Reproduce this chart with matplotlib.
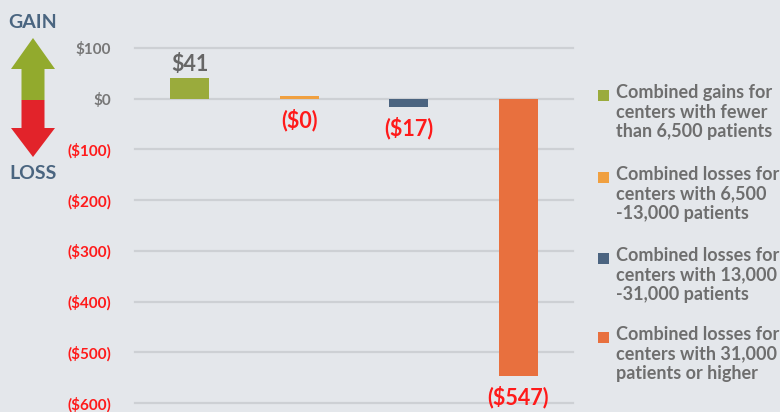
import matplotlib
matplotlib.use("Agg")
import matplotlib.pyplot as plt
from matplotlib.patches import Rectangle, Polygon

plt.rcParams['font.family'] = ['Lato', 'DejaVu Sans']

categories = ["<6,500", "6,500-13,000", "13,000-31,000", "31,000+"]
values = [41, 0, -17, -547]
value_labels = ["$41", "($0)", "($17)", "($547)"]
colors = ["#9aab3c", "#f0a040", "#4b6480", "#e8703e"]
legend_labels = [
    "Combined gains for\ncenters with fewer\nthan 6,500 patients",
    "Combined losses for\ncenters with 6,500\n-13,000 patients",
    "Combined losses for\ncenters with 13,000\n-31,000 patients",
    "Combined losses for\ncenters with 31,000\npatients or higher",
]
yticks = [100, 0, -100, -200, -300, -400, -500, -600]
ytick_labels = ["$100", "$0", "($100)", "($200)", "($300)", "($400)", "($500)", "($600)"]

BG = "#e4e7eb"
W, H = 780, 412
fig = plt.figure(figsize=(7.8, 4.12), dpi=100, facecolor=BG)

ax = fig.add_axes([135 / W, (H - 403) / H, (573 - 135) / W, (403 - 48) / H])
ax.set_facecolor(BG)
ax.set_xlim(-0.5, 3.5)
ax.set_ylim(-600, 100)
for s in ax.spines.values():
    s.set_visible(False)
for t in yticks:
    ax.axhline(t, color="#cdd0d4", lw=1.6, zorder=0, clip_on=False)
ax.set_xticks([])
ax.set_yticks(yticks)
ax.set_yticklabels(ytick_labels)
ax.tick_params(axis="y", length=0, pad=17)
for lab, t in zip(ax.get_yticklabels(), yticks):
    lab.set_fontsize(11)
    lab.set_fontweight("bold")
    lab.set_color("#777777" if t >= 0 else "#ff1a1a")

# minimal visible height for a zero bar
heights = [v if v != 0 else 6 for v in values]
x = range(len(categories))
ax.bar(x, heights, width=0.36, color=colors, zorder=2)

for i, (v, lab) in enumerate(zip(values, value_labels)):
    if v > 0:
        ax.annotate(lab, (i, v), xytext=(0, 2), textcoords="offset points",
                    ha="center", va="bottom", fontsize=15.5, fontweight="bold",
                    color="#666666", annotation_clip=False)
    else:
        ax.annotate(lab, (i, min(v, 0)), xytext=(0, -7), textcoords="offset points",
                    ha="center", va="top", fontsize=15.5, fontweight="bold",
                    color="#ff1a1a", annotation_clip=False)

# overlay axes in pixel coordinates
ov = fig.add_axes([0, 0, 1, 1], facecolor="none")
ov.set_xlim(0, W)
ov.set_ylim(H, 0)
ov.axis("off")

cx = 33
# green up arrow
ov.add_patch(Polygon([(cx - 11.5, 100), (cx - 11.5, 69), (cx - 22, 69), (cx, 38),
                      (cx + 22, 69), (cx + 11.5, 69), (cx + 11.5, 100)],
                     closed=True, color="#92aa2d", lw=0))
# red down arrow
ov.add_patch(Polygon([(cx - 11.5, 100), (cx - 11.5, 128), (cx - 22, 128), (cx, 157),
                      (cx + 22, 128), (cx + 11.5, 128), (cx + 11.5, 100)],
                     closed=True, color="#e2232a", lw=0))
ov.text(cx, 22, "GAIN", ha="center", va="center", fontsize=14, fontweight="bold",
        color="#4a6580")
ov.text(cx, 173, "LOSS", ha="center", va="center", fontsize=14, fontweight="bold",
        color="#4a6580")

# legend
leg_y = [95, 177, 258, 337]
for y0, c, lab in zip(leg_y, colors, legend_labels):
    ov.add_patch(Rectangle((598, y0 - 5.5), 11, 11, color=c, lw=0))
    ov.text(616, y0 - 11, lab, ha="left", va="top", fontsize=13, fontweight="bold",
            color="#6e6e6e", linespacing=1.18)

fig.savefig("out.png", dpi=100, facecolor=BG)
